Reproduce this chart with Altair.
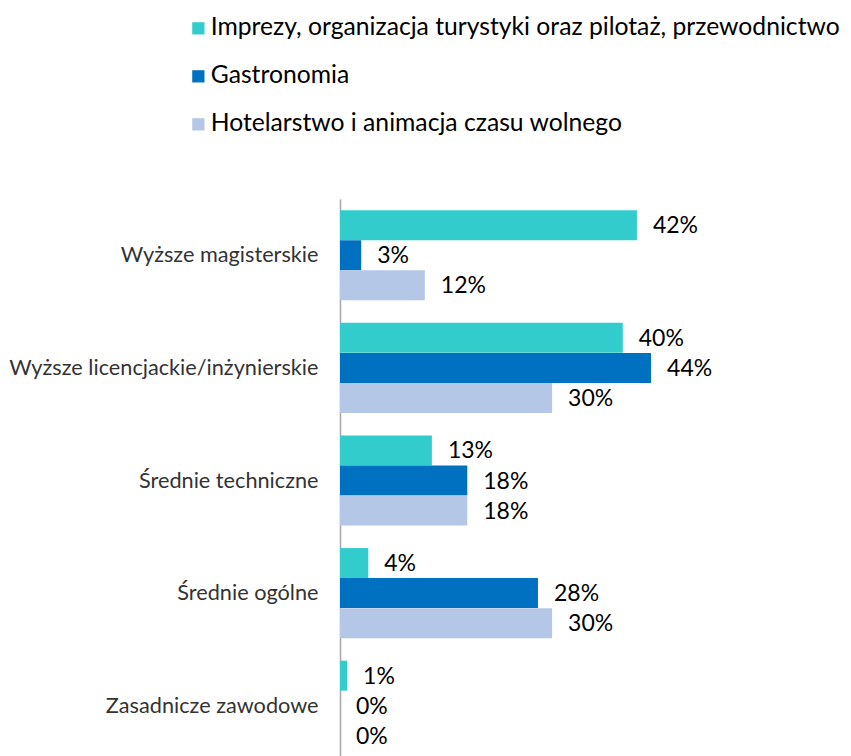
import altair as alt
import pandas as pd

categories = ["Wyższe magisterskie", "Wyższe licencjackie/inżynierskie", "Średnie techniczne",
              "Średnie ogólne", "Zasadnicze zawodowe"]
series = ["Imprezy, organizacja turystyki oraz pilotaż, przewodnictwo", "Gastronomia",
          "Hotelarstwo i animacja czasu wolnego"]
imprezy = [42, 40, 13, 4, 1]
gastronomia = [3, 44, 18, 28, 0]
hotelarstwo = [12, 30, 18, 30, 0]
colors = ["#33CCCC", "#0070C0", "#B4C7E7"]

rows = []
for s, vals in zip(series, [imprezy, gastronomia, hotelarstwo]):
    for c, v in zip(categories, vals):
        rows.append({"cat": c, "series": s, "value": v, "label": f"{v}%"})
df = pd.DataFrame(rows)

FONT = "Lato"

y = alt.Y("cat:N", sort=categories,
          scale=alt.Scale(paddingInner=0.2, paddingOuter=0.1),
          axis=alt.Axis(title=None, domainColor="#A6A6A6", domainWidth=1.5, ticks=False,
                        labelPadding=22, labelFontSize=21.7, labelFont=FONT, labelColor="#333333",
                        labelFontWeight="normal", labelLimit=400))
yoff = alt.YOffset("series:N", sort=series, scale=alt.Scale(domain=series, paddingInner=0, paddingOuter=0))
x = alt.X("value:Q", scale=alt.Scale(domain=[0, 71.15]), axis=None)

bars = alt.Chart(df).mark_bar(size=30).encode(
    y=y, yOffset=yoff, x=x,
    color=alt.Color("series:N", sort=series,
                    scale=alt.Scale(domain=series, range=colors),
                    legend=alt.Legend(title=None, orient="none", legendX=-154, legendY=-183,
                                      symbolType="square", symbolSize=150, symbolStrokeWidth=0,
                                      labelFontSize=24.7, labelFont=FONT, labelColor="#000000",
                                      labelOffset=0, rowPadding=22, labelLimit=800))
)

text = alt.Chart(df).mark_text(align="left", baseline="middle", dx=16, dy=1,
                               fontSize=23, font=FONT, color="#000000").encode(
    y=y, yOffset=yoff, x=x, text="label:N"
)

chart = (bars + text).properties(
    width=503, height=563,
    autosize=alt.AutoSizeParams(type="none"),
    padding={"left": 332, "top": 191, "right": 0, "bottom": 0},
).configure_view(stroke=None)

chart.save("out.html", embed_options={"renderer": "svg", "actions": False})
